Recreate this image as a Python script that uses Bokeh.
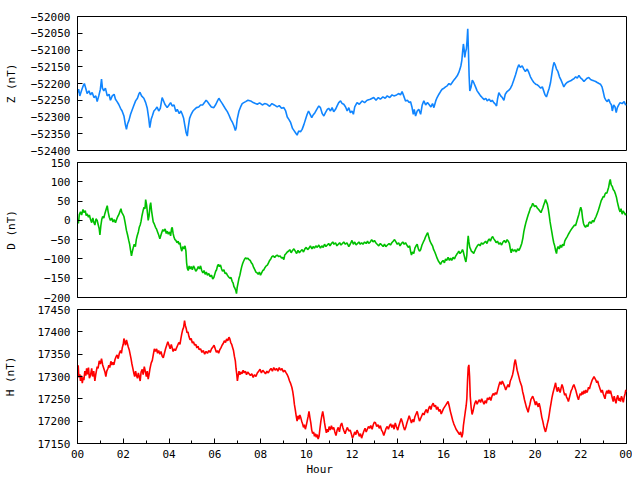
from bokeh.plotting import figure
from bokeh.layouts import column
from bokeh.models import FixedTicker, Range1d, Title
from bokeh.embed import file_html
from bokeh.resources import INLINE

FONT = "DejaVu Sans Mono"

# ---------------- data ----------------
hour_ticks = [0, 2, 4, 6, 8, 10, 12, 14, 16, 18, 20, 22, 24]
hour_tick_labels = ["00", "02", "04", "06", "08", "10", "12", "14", "16", "18", "20", "22", "00"]
hour_minor_ticks = [1, 3, 5, 7, 9, 11, 13, 15, 17, 19, 21, 23]

z_ticks = [-52400, -52350, -52300, -52250, -52200, -52150, -52100, -52050, -52000]
d_ticks = [-200, -150, -100, -50, 0, 50, 100, 150]
h_ticks = [17150, 17200, 17250, 17300, 17350, 17400, 17450]

z_hours = [0.00,0.05,0.10,0.18,0.25,0.30,0.36,0.42,0.50,0.57,0.64,0.72,0.80,0.86,0.93,1.00,1.05,1.09,1.15,1.22,
1.30,1.38,1.44,1.52,1.60,1.66,1.73,1.80,1.88,1.95,2.03,2.09,2.14,2.19,2.25,2.32,2.40,2.47,2.54,2.62,
2.68,2.73,2.80,2.90,2.98,3.05,3.11,3.16,3.22,3.27,3.34,3.41,3.48,3.55,3.62,3.70,3.75,3.82,3.92,4.00,
4.07,4.14,4.22,4.30,4.36,4.45,4.52,4.58,4.64,4.69,4.75,4.80,4.84,4.90,4.97,5.05,5.12,5.20,5.30,5.38,
5.47,5.55,5.62,5.68,5.76,5.85,5.96,6.05,6.12,6.18,6.25,6.33,6.40,6.48,6.55,6.62,6.70,6.78,6.84,6.90,
6.94,6.98,7.06,7.13,7.20,7.27,7.35,7.45,7.57,7.68,7.78,7.86,7.96,8.08,8.18,8.29,8.40,8.50,8.60,8.73,
8.82,8.92,9.02,9.10,9.17,9.24,9.32,9.40,9.46,9.53,9.60,9.67,9.75,9.82,9.90,9.97,10.04,10.10,10.17,10.24,
10.30,10.38,10.46,10.55,10.62,10.70,10.77,10.84,10.92,10.98,11.06,11.13,11.20,11.28,11.35,11.42,11.50,11.57,11.64,11.72,
11.79,11.86,11.93,12.00,12.06,12.12,12.22,12.32,12.44,12.55,12.66,12.80,12.95,13.05,13.15,13.24,13.35,13.45,13.54,13.65,
13.75,13.83,13.95,14.05,14.12,14.19,14.26,14.34,14.42,14.50,14.56,14.62,14.68,14.72,14.78,14.85,14.92,15.00,15.07,15.14,
15.22,15.30,15.36,15.45,15.52,15.58,15.66,15.72,15.80,15.87,15.94,16.02,16.09,16.16,16.24,16.31,16.38,16.45,16.52,16.60,
16.67,16.72,16.76,16.80,16.84,16.87,16.90,16.93,16.96,17.00,17.03,17.06,17.09,17.12,17.15,17.20,17.26,17.32,17.40,17.47,
17.55,17.62,17.69,17.78,17.85,17.91,18.00,18.07,18.13,18.20,18.27,18.32,18.36,18.42,18.50,18.57,18.64,18.70,18.78,18.86,
18.93,19.00,19.07,19.15,19.22,19.29,19.36,19.44,19.51,19.58,19.66,19.73,19.80,19.88,19.95,20.03,20.10,20.17,20.25,20.32,
20.38,20.44,20.50,20.56,20.62,20.68,20.73,20.78,20.83,20.88,20.94,21.00,21.07,21.14,21.20,21.26,21.33,21.40,21.48,21.56,
21.64,21.70,21.78,21.85,21.92,22.00,22.07,22.14,22.22,22.28,22.35,22.43,22.50,22.57,22.65,22.72,22.80,22.86,22.93,22.98,
23.04,23.10,23.16,23.22,23.28,23.34,23.38,23.44,23.50,23.55,23.60,23.66,23.72,23.81,23.90,23.96,24.00]
z_values = [-52227,-52217,-52237,-52220,-52207,-52200,-52214,-52230,-52222,-52234,-52227,-52242,-52237,-52254,-52237,-52217,-52187,-52214,-52222,-52214,
-52237,-52232,-52250,-52237,-52232,-52247,-52254,-52262,-52274,-52282,-52297,-52322,-52337,-52320,-52310,-52292,-52277,-52264,-52252,-52244,
-52232,-52226,-52237,-52244,-52257,-52274,-52302,-52332,-52307,-52297,-52282,-52277,-52270,-52282,-52274,-52242,-52250,-52262,-52272,-52264,
-52257,-52267,-52264,-52284,-52277,-52290,-52282,-52292,-52304,-52324,-52347,-52357,-52332,-52304,-52292,-52282,-52277,-52272,-52270,-52264,
-52264,-52257,-52250,-52254,-52262,-52270,-52272,-52262,-52252,-52244,-52252,-52260,-52268,-52277,-52284,-52294,-52307,-52317,-52327,-52340,
-52332,-52307,-52282,-52270,-52260,-52257,-52254,-52250,-52252,-52257,-52260,-52262,-52258,-52264,-52260,-52262,-52268,-52260,-52264,-52270,
-52266,-52274,-52272,-52282,-52300,-52307,-52317,-52334,-52340,-52347,-52354,-52342,-52344,-52337,-52322,-52307,-52292,-52282,-52292,-52302,
-52294,-52287,-52277,-52267,-52272,-52290,-52297,-52287,-52277,-52274,-52282,-52272,-52284,-52277,-52267,-52257,-52252,-52260,-52262,-52270,
-52282,-52272,-52287,-52282,-52292,-52270,-52257,-52262,-52252,-52257,-52250,-52247,-52242,-52250,-52242,-52247,-52240,-52244,-52237,-52242,
-52234,-52237,-52234,-52230,-52234,-52224,-52237,-52252,-52250,-52257,-52254,-52270,-52292,-52277,-52297,-52282,-52277,-52292,-52264,-52252,
-52264,-52257,-52262,-52270,-52260,-52272,-52252,-52242,-52232,-52224,-52217,-52214,-52210,-52207,-52200,-52204,-52197,-52190,-52184,-52177,
-52167,-52157,-52147,-52132,-52102,-52082,-52097,-52122,-52107,-52097,-52072,-52037,-52102,-52177,-52222,-52212,-52190,-52197,-52210,-52222,
-52230,-52237,-52242,-52248,-52244,-52252,-52247,-52254,-52250,-52257,-52262,-52267,-52247,-52227,-52237,-52242,-52250,-52232,-52224,-52220,
-52214,-52204,-52190,-52174,-52157,-52144,-52152,-52147,-52157,-52164,-52157,-52167,-52180,-52190,-52197,-52202,-52204,-52208,-52214,-52210,
-52222,-52234,-52240,-52227,-52214,-52197,-52174,-52152,-52137,-52144,-52157,-52164,-52180,-52190,-52200,-52210,-52202,-52197,-52194,-52192,
-52188,-52186,-52180,-52184,-52176,-52184,-52188,-52194,-52188,-52184,-52182,-52188,-52190,-52192,-52194,-52197,-52200,-52202,-52210,-52224,
-52242,-52250,-52254,-52247,-52257,-52264,-52282,-52264,-52270,-52287,-52272,-52264,-52257,-52260,-52254,-52264,-52262]

d_hours = [0.00,0.04,0.08,0.13,0.18,0.24,0.28,0.34,0.38,0.42,0.48,0.52,0.57,0.62,0.67,0.71,0.76,0.81,0.86,0.90,
0.95,0.98,1.02,1.06,1.10,1.15,1.20,1.25,1.30,1.34,1.39,1.44,1.50,1.55,1.60,1.66,1.72,1.76,1.80,1.85,
1.90,1.94,1.98,2.03,2.08,2.14,2.19,2.24,2.28,2.32,2.36,2.40,2.44,2.48,2.53,2.57,2.61,2.66,2.70,2.74,
2.78,2.82,2.87,2.91,2.95,2.98,3.02,3.06,3.09,3.13,3.17,3.20,3.24,3.28,3.31,3.36,3.41,3.45,3.50,3.55,
3.60,3.64,3.68,3.73,3.78,3.83,3.88,3.92,3.97,4.02,4.07,4.11,4.14,4.18,4.22,4.26,4.30,4.35,4.40,4.44,
4.48,4.52,4.56,4.60,4.65,4.70,4.74,4.77,4.80,4.84,4.88,4.92,4.97,5.02,5.07,5.12,5.17,5.22,5.28,5.33,
5.38,5.43,5.48,5.53,5.58,5.63,5.68,5.74,5.80,5.86,5.91,5.96,6.00,6.04,6.08,6.12,6.16,6.20,6.25,6.30,
6.34,6.40,6.45,6.50,6.55,6.60,6.66,6.71,6.76,6.80,6.84,6.88,6.92,6.95,6.98,7.02,7.06,7.10,7.14,7.18,
7.22,7.26,7.31,7.35,7.40,7.45,7.50,7.55,7.60,7.65,7.70,7.75,7.80,7.85,7.90,7.95,8.00,8.05,8.10,8.15,
8.20,8.25,8.30,8.35,8.40,8.45,8.50,8.55,8.62,8.68,8.73,8.80,8.86,8.92,8.97,9.02,9.06,9.12,9.17,9.22,
9.28,9.34,9.40,9.46,9.52,9.58,9.64,9.70,9.75,9.82,9.88,9.94,10.00,10.06,10.12,10.18,10.25,10.30,10.36,10.42,
10.48,10.55,10.62,10.68,10.74,10.80,10.86,10.92,10.98,11.04,11.10,11.16,11.21,11.28,11.34,11.40,11.46,11.52,11.58,11.64,
11.71,11.78,11.86,11.92,12.00,12.06,12.12,12.18,12.24,12.30,12.36,12.42,12.48,12.55,12.62,12.68,12.73,12.80,12.86,12.92,
12.98,13.04,13.10,13.17,13.24,13.30,13.36,13.42,13.48,13.55,13.62,13.68,13.74,13.80,13.86,13.92,13.98,14.04,14.10,14.16,
14.22,14.28,14.34,14.40,14.46,14.52,14.56,14.60,14.64,14.70,14.75,14.80,14.85,14.90,14.95,15.00,15.06,15.12,15.17,15.22,
15.27,15.31,15.36,15.41,15.46,15.52,15.57,15.62,15.67,15.72,15.78,15.83,15.87,15.92,15.98,16.04,16.09,16.14,16.20,16.26,
16.31,16.36,16.42,16.48,16.52,16.58,16.63,16.67,16.72,16.78,16.83,16.86,16.90,16.94,16.98,17.02,17.05,17.08,17.11,17.15,
17.18,17.22,17.27,17.32,17.36,17.42,17.48,17.54,17.60,17.66,17.72,17.78,17.84,17.90,17.95,18.00,18.05,18.10,18.15,18.20,
18.25,18.30,18.36,18.42,18.48,18.54,18.60,18.66,18.72,18.78,18.83,18.88,18.92,18.96,19.00,19.06,19.12,19.18,19.24,19.30,
19.36,19.42,19.47,19.51,19.56,19.61,19.66,19.71,19.75,19.80,19.85,19.90,19.94,19.98,20.04,20.10,20.16,20.21,20.26,20.30,
20.34,20.38,20.42,20.46,20.50,20.54,20.58,20.62,20.66,20.70,20.74,20.78,20.82,20.86,20.90,20.94,20.97,21.01,21.06,21.11,
21.16,21.21,21.26,21.30,21.35,21.41,21.46,21.52,21.58,21.63,21.68,21.73,21.77,21.82,21.87,21.92,21.96,22.00,22.04,22.08,
22.12,22.16,22.21,22.26,22.31,22.36,22.41,22.46,22.52,22.57,22.62,22.67,22.72,22.77,22.82,22.86,22.90,22.94,22.98,23.02,
23.06,23.10,23.14,23.18,23.22,23.26,23.29,23.33,23.38,23.42,23.47,23.52,23.56,23.60,23.64,23.68,23.72,23.76,23.81,23.85,
23.90,23.95,24.00]
d_values = [4,-8,15,22,14,28,20,25,12,17,8,14,2,-6,6,-4,-12,4,0,-10,
-22,-38,-14,2,10,6,18,28,38,22,8,0,6,-4,2,-6,4,10,14,22,
30,20,16,10,-5,-26,-38,-52,-62,-78,-92,-80,-70,-62,-68,-50,-40,-30,-18,-12,
-2,12,26,34,30,54,40,18,0,12,38,46,24,8,-4,-10,-18,-22,-30,-38,
-48,-40,-32,-24,-28,-22,-34,-28,-36,-30,-40,-22,-18,-34,-44,-50,-52,-58,-54,-62,
-58,-72,-80,-68,-74,-66,-80,-110,-124,-130,-118,-126,-120,-128,-118,-124,-132,-128,-120,-126,
-118,-130,-136,-130,-140,-134,-142,-138,-146,-142,-152,-148,-140,-132,-128,-118,-114,-120,-116,-126,
-132,-128,-138,-136,-142,-146,-150,-148,-158,-162,-172,-176,-182,-190,-174,-162,-150,-142,-130,-120,
-112,-106,-100,-97,-100,-98,-102,-104,-110,-114,-122,-128,-134,-136,-140,-134,-142,-136,-130,-128,
-122,-118,-116,-110,-104,-100,-94,-92,-96,-92,-90,-94,-92,-98,-96,-102,-90,-86,-82,-80,
-76,-84,-78,-74,-80,-86,-78,-84,-80,-76,-82,-74,-70,-76,-72,-66,-74,-68,-72,-66,
-70,-64,-72,-66,-70,-62,-68,-64,-60,-66,-60,-56,-62,-58,-66,-62,-58,-64,-60,-56,
-62,-58,-68,-62,-52,-62,-56,-64,-60,-56,-62,-58,-62,-56,-60,-54,-60,-56,-50,-56,
-52,-58,-62,-66,-60,-64,-68,-62,-68,-64,-60,-64,-58,-54,-50,-56,-62,-58,-66,-60,
-56,-62,-58,-64,-70,-66,-80,-90,-82,-86,-72,-66,-62,-74,-80,-76,-64,-56,-50,-42,
-36,-32,-44,-54,-60,-66,-76,-82,-90,-98,-106,-110,-114,-108,-104,-110,-100,-104,-96,-104,
-98,-104,-96,-100,-94,-88,-84,-80,-86,-82,-76,-80,-90,-100,-108,-90,-60,-40,-56,-70,
-74,-80,-82,-86,-80,-72,-66,-62,-66,-58,-62,-58,-54,-60,-52,-48,-54,-46,-42,-48,
-52,-58,-54,-62,-58,-64,-56,-52,-58,-50,-54,-60,-74,-84,-74,-80,-76,-82,-74,-78,
-70,-60,-46,-30,-16,-4,6,16,22,32,36,44,40,36,38,32,28,24,20,26,
32,40,46,54,48,42,30,14,-4,-18,-32,-46,-58,-66,-78,-86,-74,-68,-74,-64,
-70,-62,-66,-54,-48,-42,-36,-30,-24,-20,-16,-12,-14,-4,6,16,26,34,26,6,
-8,-14,-18,-12,-16,-6,-4,-8,0,-4,4,10,18,26,36,44,52,56,62,60,
68,72,70,78,86,100,106,92,88,80,76,68,60,48,38,28,22,30,16,24,
20,14,18]

h_hours = [0.00,0.03,0.06,0.10,0.13,0.17,0.21,0.25,0.28,0.32,0.36,0.40,0.44,0.48,0.52,0.57,0.62,0.66,0.71,0.76,
0.80,0.86,0.90,0.95,1.00,1.05,1.10,1.15,1.20,1.24,1.28,1.33,1.37,1.41,1.46,1.50,1.55,1.59,1.64,1.69,
1.73,1.78,1.83,1.88,1.92,1.96,2.00,2.03,2.06,2.10,2.14,2.18,2.22,2.26,2.30,2.34,2.38,2.42,2.46,2.50,
2.54,2.58,2.62,2.66,2.70,2.74,2.78,2.83,2.87,2.92,2.97,3.01,3.05,3.09,3.13,3.17,3.22,3.27,3.31,3.36,
3.41,3.46,3.50,3.55,3.60,3.65,3.70,3.75,3.80,3.85,3.90,3.95,4.00,4.05,4.10,4.14,4.18,4.23,4.28,4.33,
4.38,4.43,4.48,4.52,4.56,4.60,4.64,4.68,4.71,4.75,4.79,4.83,4.87,4.92,4.97,5.02,5.07,5.12,5.17,5.22,
5.27,5.32,5.38,5.44,5.50,5.56,5.62,5.68,5.74,5.80,5.86,5.92,5.97,6.02,6.07,6.12,6.17,6.22,6.27,6.32,
6.37,6.42,6.47,6.52,6.57,6.62,6.66,6.70,6.74,6.78,6.82,6.86,6.90,6.93,6.96,6.99,7.02,7.06,7.10,7.14,
7.19,7.24,7.29,7.34,7.39,7.44,7.50,7.56,7.62,7.68,7.74,7.80,7.86,7.92,7.98,8.04,8.10,8.16,8.22,8.28,
8.34,8.40,8.46,8.52,8.58,8.64,8.70,8.76,8.82,8.88,8.94,9.00,9.06,9.12,9.17,9.22,9.27,9.32,9.37,9.41,
9.45,9.48,9.52,9.56,9.60,9.64,9.68,9.72,9.76,9.80,9.84,9.88,9.92,9.96,10.00,10.04,10.08,10.12,10.16,10.20,
10.24,10.28,10.32,10.36,10.40,10.44,10.48,10.52,10.56,10.60,10.64,10.68,10.72,10.76,10.80,10.84,10.88,10.92,10.96,11.00,
11.05,11.10,11.15,11.20,11.25,11.30,11.35,11.40,11.45,11.50,11.55,11.60,11.65,11.70,11.75,11.80,11.86,11.92,11.97,12.02,
12.07,12.12,12.17,12.22,12.27,12.32,12.37,12.42,12.47,12.52,12.57,12.62,12.67,12.72,12.77,12.82,12.88,12.93,12.98,13.03,
13.08,13.14,13.19,13.24,13.29,13.34,13.39,13.44,13.49,13.54,13.59,13.64,13.69,13.74,13.79,13.84,13.89,13.94,14.00,14.05,
14.10,14.15,14.20,14.25,14.30,14.35,14.40,14.45,14.50,14.55,14.60,14.65,14.70,14.75,14.80,14.85,14.90,14.95,15.00,15.05,
15.10,15.15,15.20,15.25,15.30,15.35,15.40,15.45,15.50,15.55,15.60,15.65,15.70,15.75,15.80,15.85,15.90,15.95,16.00,16.05,
16.10,16.15,16.20,16.25,16.30,16.35,16.40,16.45,16.50,16.55,16.60,16.65,16.70,16.75,16.80,16.84,16.87,16.91,16.95,16.99,
17.02,17.05,17.08,17.11,17.14,17.17,17.21,17.25,17.29,17.33,17.37,17.42,17.47,17.52,17.57,17.62,17.67,17.72,17.77,17.82,
17.87,17.92,17.97,18.02,18.07,18.12,18.17,18.22,18.27,18.32,18.37,18.42,18.47,18.52,18.57,18.62,18.67,18.72,18.77,18.82,
18.87,18.92,18.97,19.02,19.06,19.10,19.14,19.18,19.22,19.26,19.30,19.34,19.38,19.42,19.46,19.50,19.54,19.58,19.62,19.66,
19.70,19.74,19.78,19.82,19.86,19.90,19.94,19.98,20.02,20.06,20.10,20.14,20.18,20.22,20.26,20.30,20.34,20.38,20.42,20.46,
20.50,20.54,20.58,20.62,20.66,20.70,20.74,20.78,20.82,20.86,20.90,20.94,20.98,21.02,21.06,21.10,21.14,21.18,21.22,21.26,
21.30,21.34,21.38,21.42,21.46,21.50,21.54,21.58,21.62,21.66,21.70,21.74,21.78,21.82,21.86,21.90,21.94,21.98,22.02,22.06,
22.10,22.14,22.18,22.22,22.26,22.30,22.34,22.38,22.42,22.46,22.50,22.54,22.58,22.62,22.66,22.70,22.74,22.78,22.82,22.86,
22.90,22.94,22.98,23.02,23.06,23.10,23.14,23.18,23.22,23.26,23.30,23.34,23.38,23.42,23.46,23.50,23.54,23.58,23.62,23.66,
23.70,23.74,23.78,23.82,23.86,23.90,23.94,23.97,24.00]
h_values = [17310,17325,17298,17305,17290,17302,17285,17298,17292,17312,17302,17318,17305,17320,17296,17303,17318,17300,17312,17290,
17305,17322,17318,17335,17328,17340,17326,17318,17310,17300,17312,17318,17325,17320,17334,17326,17332,17326,17338,17345,
17348,17340,17352,17358,17352,17365,17372,17385,17378,17370,17382,17374,17366,17360,17350,17340,17328,17318,17308,17300,
17312,17302,17296,17308,17300,17290,17310,17316,17304,17322,17310,17300,17312,17294,17305,17318,17330,17336,17348,17362,
17356,17362,17352,17358,17350,17356,17346,17342,17352,17362,17370,17378,17370,17362,17372,17364,17356,17362,17358,17364,
17370,17376,17372,17385,17396,17405,17410,17425,17415,17408,17398,17400,17390,17382,17385,17375,17378,17370,17372,17364,
17368,17360,17362,17354,17358,17350,17356,17352,17358,17354,17362,17366,17370,17362,17354,17358,17352,17360,17364,17370,
17374,17380,17376,17384,17380,17388,17384,17376,17372,17365,17358,17345,17335,17318,17306,17290,17300,17312,17304,17310,
17306,17314,17308,17312,17304,17310,17306,17302,17306,17298,17304,17300,17308,17312,17316,17308,17314,17310,17306,17312,
17308,17314,17318,17312,17320,17314,17318,17312,17320,17314,17318,17310,17314,17308,17304,17298,17290,17284,17276,17266,
17252,17238,17226,17212,17200,17212,17204,17214,17208,17200,17194,17186,17192,17182,17190,17200,17210,17222,17208,17196,
17180,17172,17176,17166,17172,17164,17170,17160,17166,17184,17200,17212,17222,17210,17196,17184,17174,17182,17176,17188,
17180,17190,17182,17186,17176,17168,17180,17186,17176,17190,17196,17186,17178,17172,17180,17186,17178,17180,17172,17162,
17168,17176,17170,17180,17174,17166,17172,17162,17170,17178,17184,17176,17182,17188,17184,17190,17182,17192,17198,17196,
17188,17192,17184,17190,17180,17176,17168,17176,17184,17188,17182,17190,17194,17186,17192,17182,17196,17188,17180,17190,
17198,17206,17198,17188,17180,17186,17196,17204,17212,17204,17196,17204,17198,17210,17216,17222,17210,17200,17206,17212,
17218,17214,17222,17226,17218,17228,17234,17226,17236,17240,17232,17236,17226,17232,17222,17226,17216,17222,17228,17232,
17236,17240,17244,17234,17222,17212,17202,17194,17188,17182,17178,17174,17170,17176,17164,17172,17190,17205,17220,17234,
17250,17290,17320,17326,17300,17255,17230,17215,17222,17232,17240,17246,17238,17244,17248,17242,17250,17244,17238,17246,
17240,17252,17248,17254,17246,17256,17262,17258,17264,17260,17270,17280,17288,17282,17290,17284,17278,17270,17276,17282,
17276,17290,17296,17304,17314,17330,17338,17326,17314,17306,17298,17290,17284,17278,17266,17258,17248,17240,17232,17226,
17220,17230,17238,17248,17252,17256,17250,17244,17236,17244,17238,17232,17240,17232,17220,17208,17200,17190,17182,17176,
17184,17194,17202,17214,17228,17240,17252,17262,17270,17278,17286,17272,17266,17276,17270,17264,17274,17282,17276,17266,
17258,17262,17254,17250,17244,17252,17260,17268,17272,17278,17282,17276,17270,17262,17254,17248,17256,17262,17258,17266,
17260,17268,17262,17270,17264,17268,17276,17272,17280,17286,17292,17296,17300,17296,17292,17286,17290,17282,17276,17270,
17264,17270,17262,17256,17250,17262,17268,17262,17270,17262,17268,17260,17252,17244,17256,17248,17240,17252,17258,17246,
17252,17244,17256,17250,17242,17254,17262,17270,17265]

# ---------------- layout ----------------
FIG_W = 632
BORDER_L = 77
BORDER_R = 6


def make_panel(hours, values, color, ylabel, label_standoff, ymin, ymax, yticks, height, top, bottom):
    p = figure(width=FIG_W, height=height, output_backend="svg", toolbar_location=None,
               x_range=Range1d(0, 24), y_range=Range1d(ymin, ymax),
               min_border_left=BORDER_L, min_border_right=BORDER_R,
               min_border_top=top, min_border_bottom=bottom)
    p.line(hours, values, line_color=color, line_width=1.6)
    p.grid.visible = False
    p.outline_line_color = "black"
    p.outline_line_width = 1
    p.background_fill_color = "white"
    p.border_fill_color = "white"

    ya = p.yaxis[0]
    ya.ticker = FixedTicker(ticks=yticks, minor_ticks=[])
    ya.major_tick_in = 5
    ya.major_tick_out = 0
    ya.minor_tick_in = 0
    ya.minor_tick_out = 0
    ya.major_tick_line_color = "black"
    ya.axis_line_color = "black"
    ya.major_label_text_font = FONT
    ya.major_label_text_font_size = "11px"
    ya.major_label_text_color = "black"
    ya.major_label_standoff = 7
    ya.axis_label = ylabel
    ya.axis_label_text_font = FONT
    ya.axis_label_text_font_size = "11px"
    ya.axis_label_text_font_style = "normal"
    ya.axis_label_text_color = "black"
    ya.axis_label_standoff = label_standoff
    return p


pz = make_panel(z_hours, z_values, "#1085ff", "Z (nT)", 10, -52400, -52000, z_ticks, 156, 16, 6)
pd_ = make_panel(d_hours, d_values, "#00c000", "D (nT)", 23, -200, 150, d_ticks, 147, 6, 6)
ph = make_panel(h_hours, h_values, "#ff0000", "H (nT)", 17, 17150, 17450, h_ticks, 173, 6, 33)

for p in (pz, pd_):
    p.xaxis.visible = False

xa = ph.xaxis[0]
xa.ticker = FixedTicker(ticks=hour_ticks, minor_ticks=hour_minor_ticks)
xa.major_label_overrides = {t: lab for t, lab in zip(hour_ticks, hour_tick_labels)}
xa.major_tick_in = 5
xa.major_tick_out = 0
xa.minor_tick_in = 3
xa.minor_tick_out = 0
xa.major_tick_line_color = "black"
xa.minor_tick_line_color = "black"
xa.axis_line_color = "black"
xa.major_label_text_font = FONT
xa.major_label_text_font_size = "11px"
xa.major_label_text_color = "black"
xa.major_label_standoff = 6

ph.add_layout(Title(text="Hour", align="left", offset=229, standoff=0,
                    text_font=FONT, text_font_size="11px", text_font_style="normal",
                    text_color="black"), "below")

layout = column(pz, pd_, ph, spacing=0)
open("out.html", "w").write(file_html(layout, INLINE))
